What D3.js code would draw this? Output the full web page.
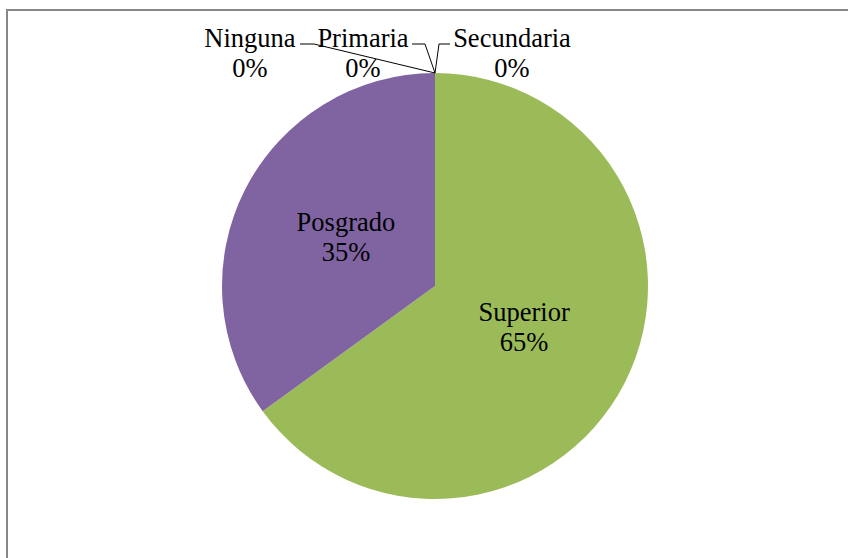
<!DOCTYPE html>
<html><head><meta charset="utf-8">
<script src="https://cdn.jsdelivr.net/npm/d3@7"></script>
<style>html,body{margin:0;padding:0;background:#fff;}svg{display:block;}</style>
</head><body>
<svg id="c" width="848" height="558"></svg>
<script>
const categories = ["Ninguna", "Primaria", "Secundaria", "Superior", "Posgrado"];
const values = [0, 0, 0, 65, 35];
const sliceColors = ["#4F81BD", "#C0504D", "#F79646", "#9BBB59", "#8064A2"];

(function(){
const svg = d3.select("#c");
const W = 848, H = 558;
const cx = 435, cy = 286, R = 213;

// frame
svg.append("path").attr("d", `M7,${H}V10H${W}`).attr("fill","none").attr("stroke","#888").attr("stroke-width",2);

const total = d3.sum(values);
const data = categories.map((c,i)=>({cat:c, value:values[i], i}));
const pie = d3.pie().value(d=>d.value).sort(null);
const arcs = pie(data);
const arc = d3.arc().innerRadius(0).outerRadius(R);
const labelArc = d3.arc().innerRadius(100).outerRadius(100);

const g = svg.append("g").attr("transform",`translate(${cx},${cy})`);
g.selectAll("path.slice").data(arcs.filter(a=>a.data.value>0)).join("path")
  .attr("class","slice").attr("d",arc).attr("fill",d=>sliceColors[d.data.i]);

const fmt = v => Math.round(v/total*100) + "%";
const font = "'Liberation Serif','Times New Roman',serif";

// inside labels
arcs.filter(a=>a.data.value>0).forEach(a=>{
  const [x,y] = labelArc.centroid(a);
  const t = g.append("text").attr("text-anchor","middle").attr("font-family",font).attr("font-size",26.5).attr("fill","#000");
  t.append("tspan").attr("x",x).attr("y",y-10).text(a.data.cat);
  t.append("tspan").attr("x",x).attr("y",y+20).text(fmt(a.data.value));
});

// zero-value labels with leader lines
const zeroLayout = [
  {lx: 250, line: [[300,44],[314,44]]},
  {lx: 363, line: [[412,44],[425,44]]},
  {lx: 512, line: [[450,44],[439,44]]}
];
arcs.filter(a=>a.data.value===0).forEach((a,k)=>{
  const L = zeroLayout[k];
  const ang = a.startAngle;
  const px = cx + R*Math.sin(ang), py = cy - R*Math.cos(ang);
  const pts = [L.line[0], L.line[1], [px,py]];
  svg.append("path").attr("d", d3.line()(pts)).attr("fill","none").attr("stroke","#000").attr("stroke-width",1);
  const t = svg.append("text").attr("text-anchor","middle").attr("font-family",font).attr("font-size",26.5).attr("fill","#000");
  t.append("tspan").attr("x",L.lx).attr("y",47).text(a.data.cat);
  t.append("tspan").attr("x",L.lx).attr("y",77).text(fmt(a.data.value));
});
})();
</script>
</body></html>
